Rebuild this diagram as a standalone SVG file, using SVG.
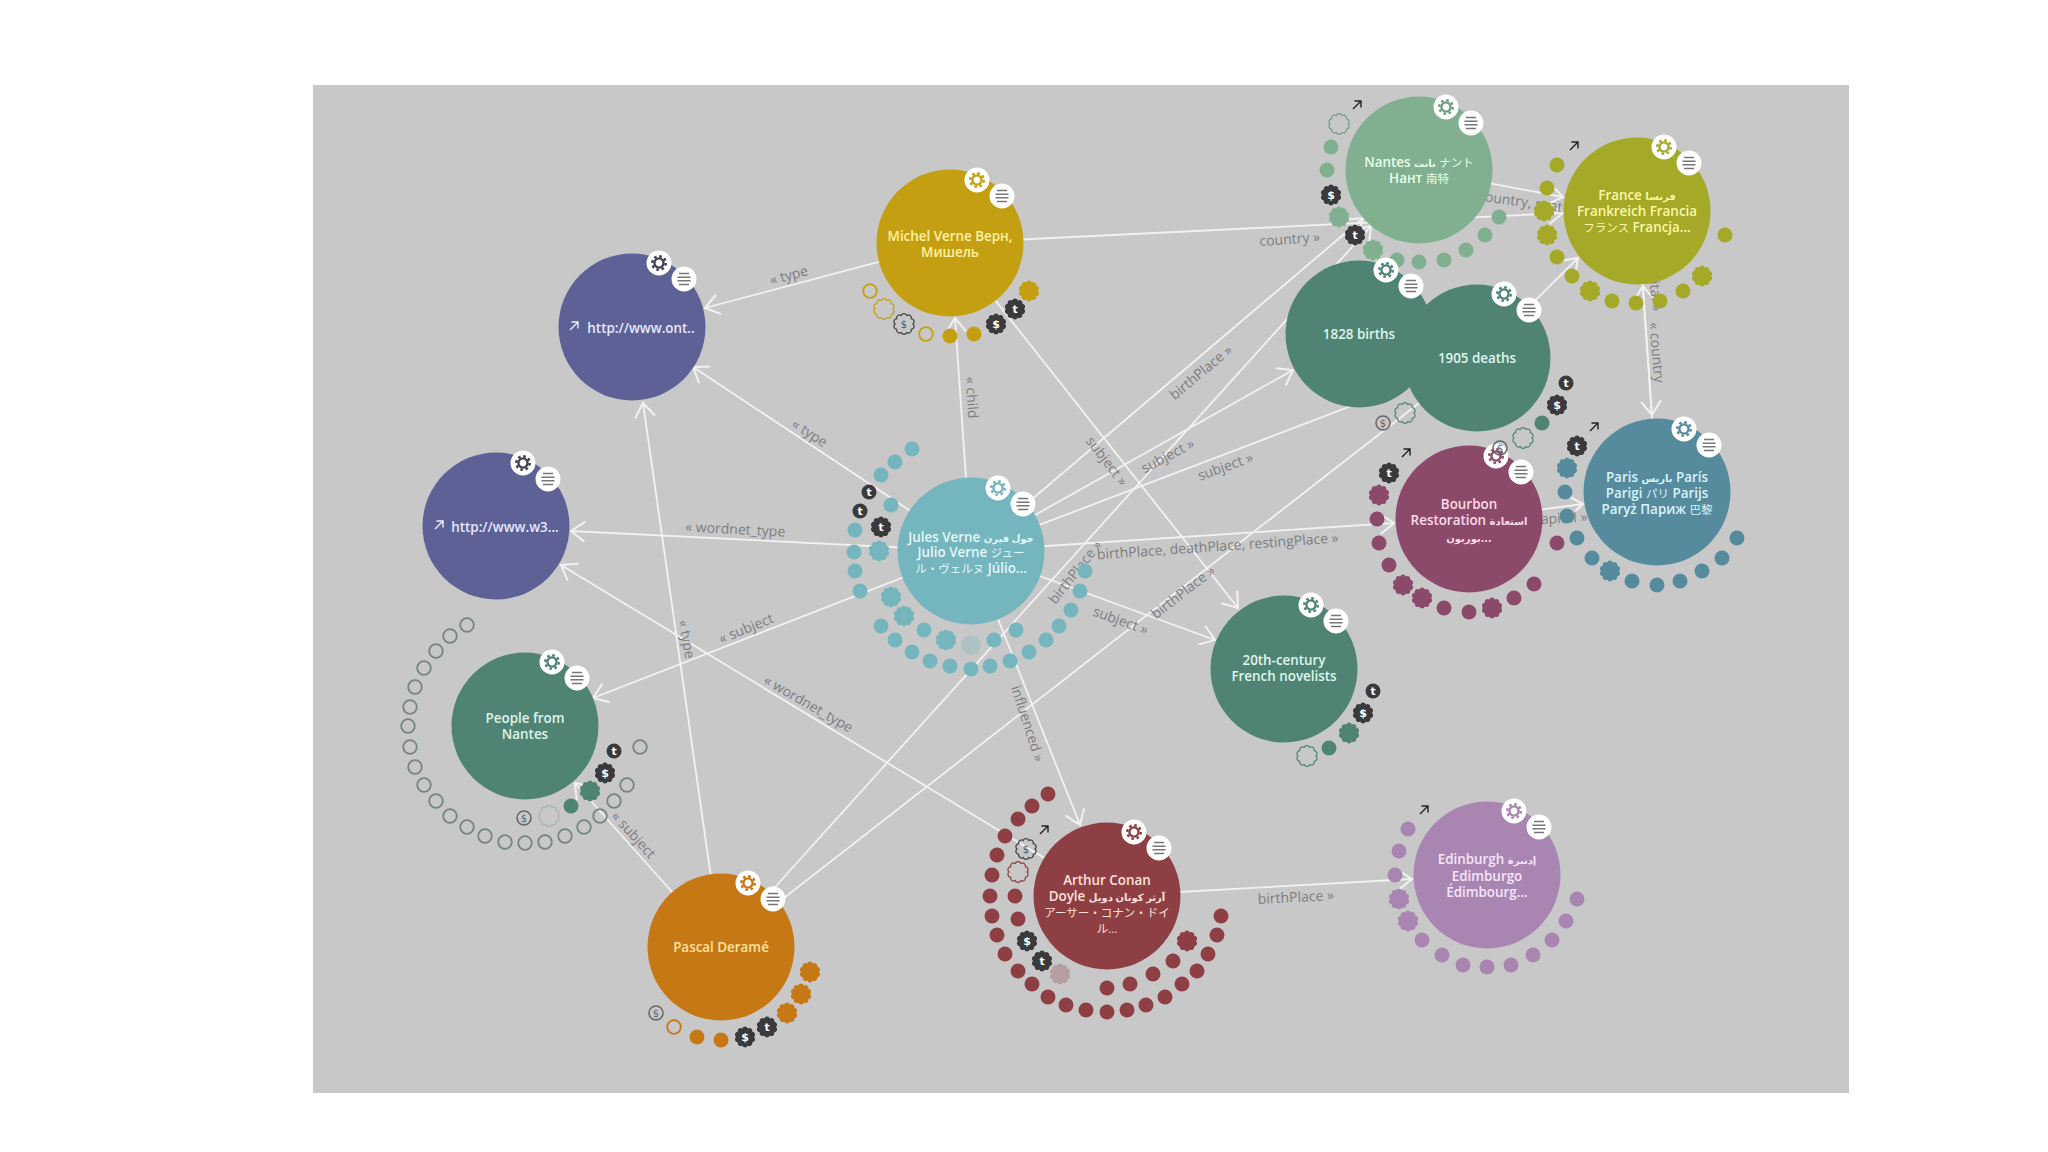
<svg xmlns="http://www.w3.org/2000/svg" width="2048" height="1152" viewBox="0 0 2048 1152">
<style>
text{font-family:"Open Sans","DejaVu Sans","Noto Sans CJK JP",sans-serif}
.e{stroke:#f2f2f2;stroke-width:1.8;fill:none;marker-end:url(#a)}
.l{font-size:14px;fill:#7d7d80;text-anchor:middle}
.t{font-size:13.4px;font-weight:600;text-anchor:middle}
.j{font-size:11.5px;font-weight:400}
.r{font-size:10px;font-weight:600}
.f{opacity:.3}
.jules{fill:#75b5bd;color:#75b5bd}.jules .t{fill:#e2f8f9}
.nantes{fill:#80b08f;color:#6f9f80}.nantes .t{fill:#e6ffe8}
.france{fill:#a4a928;color:#a4a928}.france .t{fill:#fbf7a8}
.teal{fill:#4f8475;color:#4f8475}.teal .t{fill:#dff5e8}
.bourbon{fill:#8c4a6b;color:#8c4a6b}.bourbon .t{fill:#fbd9ea}
.paris{fill:#568b9e;color:#568b9e}.paris .t{fill:#d8f3fb}
.michel{fill:#c49f11;color:#c49f11}.michel .t{fill:#fff2a0}
.uri{fill:#5d6195;color:#3f4050}.uri .t{fill:#e6e8ff}
.pascal{fill:#c67815;color:#c67815}.pascal .t{fill:#ffe2a0}
.arthur{fill:#8d3f44;color:#8d3f44}.arthur .t{fill:#ffe0dc}
.edin{fill:#a886b1;color:#a886b1}.edin .t{fill:#f6e4fa}
.ic{font-size:11px;font-weight:700;text-anchor:middle;font-family:"DejaVu Sans",sans-serif}
</style>
<defs>
<marker id="a" markerUnits="userSpaceOnUse" viewBox="-16 -12 18 24" refX="0" refY="0" markerWidth="18" markerHeight="24" orient="auto"><path d="M-14-10L0 0L-14 10" fill="none" stroke="#f2f2f2" stroke-width="2"/></marker>
<circle id="d" r="7.5"/>
<path id="s" d="M9 0A3 3 0 0 1 7.28 5.29A3 3 0 0 1 2.78 8.56A3 3 0 0 1-2.78 8.56A3 3 0 0 1-7.28 5.29A3 3 0 0 1-9 0A3 3 0 0 1-7.28-5.29A3 3 0 0 1-2.78-8.56A3 3 0 0 1 2.78-8.56A3 3 0 0 1 7.28-5.29A3 3 0 0 1 9 0Z"/>
<circle id="o" r="6.8" fill="none" stroke="currentColor" stroke-width="1.8"/>
<use id="os" href="#s" fill="none" stroke="currentColor" stroke-width="1.2"/>
<g id="tc"><circle r="7.5" fill="#3a3a3c"/><text class="ic" y="4" fill="#fff">t</text></g>
<g id="ts"><use href="#s" fill="#3a3a3c"/><text class="ic" y="4" fill="#fff">t</text></g>
<g id="ds"><use href="#s" fill="#3a3a3c"/><text class="ic" y="4" fill="#fff">$</text></g>
<g id="do"><circle r="7" fill="none" stroke="#666" stroke-width="1.5"/><text class="ic" y="4" fill="#666" style="font-size:10px;font-weight:400">$</text></g>
<g id="dz"><use href="#s" fill="none" stroke="#444" stroke-width="1.3"/><text class="ic" y="4" fill="#555" style="font-size:10px;font-weight:400">$</text></g>
<g id="b"><circle r="12.5" fill="#fff"/><circle r="4.6" fill="none" stroke="currentColor" stroke-width="2.4"/><circle r="6.8" fill="none" stroke="currentColor" stroke-width="2.4" stroke-dasharray="2.7 2.64"/>
<circle cx="25" cy="16" r="12.5" fill="#fff"/><path d="M20 10.5H30M18.5 14.2H31.5M18.5 17.8H31.5M20 21.5H30" stroke="#77777a" stroke-width="1.5" fill="none"/></g>
<path id="ar" d="M-4 4L4-4M-2.5-4H4V2.5" fill="none" stroke="#222" stroke-width="1.4"/>
<path id="aw" d="M-4 4L4-4M-2.5-4H4V2.5" fill="none" stroke="#eef" stroke-width="1.4"/>
</defs>
<rect width="2048" height="1152" fill="#fff"/>
<rect x="313" y="85" width="1536" height="1008" fill="#c8c8c9"/>
<g id="connectors">
<line class="e" x1="950" y1="243" x2="705" y2="308"/>
<line class="e" x1="971" y1="551" x2="693" y2="367"/>
<line class="e" x1="971" y1="551" x2="955" y2="318"/>
<line class="e" x1="971" y1="551" x2="571" y2="531"/>
<line class="e" x1="971" y1="551" x2="593" y2="698"/>
<line class="e" x1="971" y1="551" x2="1215" y2="640"/>
<line class="e" x1="971" y1="551" x2="1080" y2="825"/>
<line class="e" x1="971" y1="551" x2="1394" y2="523"/>
<line class="e" x1="971" y1="551" x2="1293" y2="370"/>
<line class="e" x1="971" y1="551" x2="1477" y2="358"/>
<line class="e" x1="971" y1="551" x2="1363" y2="218"/>
<line class="e" x1="950" y1="243" x2="1563" y2="213"/>
<line class="e" x1="950" y1="243" x2="1238" y2="608"/>
<line class="e" x1="1419" y1="170" x2="1563" y2="197"/>
<line class="e" x1="1477" y1="358" x2="1578" y2="258"/>
<line class="e" x1="1637" y1="211" x2="1652" y2="415"/>
<line class="e" x1="1657" y1="492" x2="1643" y2="286"/>
<line class="e" x1="1469" y1="519" x2="1583" y2="504"/>
<line class="e" x1="721" y1="947" x2="643" y2="403"/>
<line class="e" x1="721" y1="947" x2="575" y2="783"/>
<line class="e" x1="721" y1="947" x2="1371" y2="226"/>
<line class="e" x1="721" y1="947" x2="1477" y2="358"/>
<line class="e" x1="1107" y1="896" x2="561" y2="565"/>
<line class="e" x1="1107" y1="896" x2="1412" y2="879"/>
<text class="l" transform="translate(790 280) rotate(-15)">« type</text>
<text class="l" transform="translate(807 437) rotate(33)">« type</text>
<text class="l" transform="translate(967 398) rotate(86)">« child</text>
<text class="l" transform="translate(735 534) rotate(3)">« wordnet_type</text>
<text class="l" transform="translate(748 633) rotate(-22)">« subject</text>
<text class="l" transform="translate(1119 625) rotate(20)">subject »</text>
<text class="l" transform="translate(1023 725) rotate(72)">influenced »</text>
<text class="l" transform="translate(1170 460) rotate(-28)">subject »</text>
<text class="l" transform="translate(1227 471) rotate(-20)">subject »</text>
<text class="l" transform="translate(1103 464) rotate(52)">subject »</text>
<text class="l" transform="translate(1204 376) rotate(-40)">birthPlace »</text>
<text class="l" transform="translate(1079 575) rotate(-52)">birthPlace »</text>
<text class="l" transform="translate(1186 596) rotate(-38)">birthPlace »</text>
<text class="l" transform="translate(1218 551) rotate(-4)">birthPlace, deathPlace, restingPlace »</text>
<text class="l" transform="translate(1290 244) rotate(-4)">country »</text>
<text class="l" transform="translate(1525 207) rotate(8)">country, seat »</text>
<text class="l" transform="translate(682 640) rotate(80)">« type</text>
<text class="l" transform="translate(806 708) rotate(30)">« wordnet_type</text>
<text class="l" transform="translate(630 838) rotate(48)">« subject</text>
<text class="l" transform="translate(1296 902) rotate(-3)">birthPlace »</text>
<text class="l" transform="translate(1561 523) rotate(-3)">capital »</text>
<text class="l" transform="translate(1652 353) rotate(85)">« country</text>
<text class="l" transform="translate(1650 285) rotate(85)">capital »</text>
</g>
<g id="ont" class="uri"><circle cx="632" cy="327" r="73.5"/><use href="#b" x="659" y="263"/><use href="#aw" x="574" y="326"/><text class="t" x="641" y="333">http://www.ont..</text></g>
<g id="w3" class="uri"><circle cx="496" cy="526" r="73.5"/><use href="#b" x="523" y="463"/><use href="#aw" x="439" y="525"/><text class="t" x="505" y="532">http://www.w3...</text></g>
<g id="michel" class="michel"><circle cx="950" cy="243" r="73.5"/><use href="#b" x="977" y="180"/>
<use href="#o" x="870" y="291"/><use href="#os" x="884" y="309"/><use href="#dz" x="904" y="324"/><use href="#o" x="926" y="334"/><use href="#d" x="950" y="336"/><use href="#d" x="974" y="334"/><use href="#ds" x="996" y="324"/><use href="#ts" x="1015" y="309"/><use href="#s" x="1029" y="291"/>
<text class="t" x="950" y="241">Michel Verne Верн,</text><text class="t" x="950" y="257">Мишель</text></g>
<g id="jules" class="jules"><circle cx="971" cy="551" r="73.5"/><use href="#b" x="998" y="488"/>
<use href="#d" x="912" y="449"/><use href="#d" x="895" y="462"/><use href="#d" x="881" y="475"/><use href="#d" x="891" y="505"/><use href="#d" x="855" y="530"/><use href="#d" x="854" y="552"/><use href="#d" x="855" y="571"/><use href="#d" x="860" y="591"/><use href="#tc" x="869" y="492"/><use href="#tc" x="860" y="511"/><use href="#ts" x="881" y="527"/><use href="#s" x="879" y="551"/><use href="#s" x="891" y="597"/><use href="#s" x="904" y="616"/><use href="#d" x="881" y="626"/><use href="#d" x="895" y="640"/><use href="#d" x="912" y="652"/><use href="#d" x="930" y="661"/><use href="#d" x="950" y="666"/><use href="#d" x="971" y="669"/><use href="#d" x="990" y="666"/><use href="#d" x="1010" y="661"/><use href="#d" x="1029" y="652"/><use href="#d" x="1046" y="640"/><use href="#d" x="1059" y="626"/><use href="#d" x="1071" y="610"/><use href="#d" x="1080" y="591"/><use href="#d" x="1085" y="571"/><use href="#d" x="924" y="630"/><use href="#s" x="946" y="640"/><use href="#s" class="f" x="971" y="645"/><use href="#d" x="994" y="640"/><use href="#d" x="1016" y="630"/>
<text class="t" x="971" y="542">Jules Verne <tspan class="r">جول فيرن</tspan></text><text class="t" x="971" y="557">Julio Verne <tspan class="j">ジュー</tspan></text><text class="t" x="971" y="573"><tspan class="j">ル・ヴェルヌ</tspan> Júlio...</text></g>
<g id="nantes" class="nantes"><circle cx="1419" cy="170" r="73.5"/><use href="#b" x="1446" y="107"/><use href="#ar" x="1357" y="105"/>
<use href="#os" x="1339" y="124"/><use href="#d" x="1331" y="147"/><use href="#d" x="1327" y="170"/><use href="#ds" x="1331" y="195"/><use href="#s" x="1339" y="217"/><use href="#ts" x="1355" y="235"/><use href="#s" x="1373" y="250"/><use href="#d" x="1397" y="260"/><use href="#d" x="1419" y="262"/><use href="#d" x="1444" y="260"/><use href="#d" x="1466" y="250"/><use href="#d" x="1485" y="235"/><use href="#d" x="1499" y="217"/>
<text class="t" x="1419" y="167">Nantes <tspan class="r">نانت</tspan> <tspan class="j">ナント</tspan></text><text class="t" x="1419" y="183">Нант <tspan class="j">南特</tspan></text></g>
<g id="france" class="france"><circle cx="1637" cy="211" r="73.5"/><use href="#b" x="1664" y="147"/><use href="#ar" x="1574" y="146"/>
<use href="#d" x="1557" y="165"/><use href="#d" x="1547" y="188"/><use href="#s" x="1544" y="211"/><use href="#s" x="1547" y="235"/><use href="#d" x="1557" y="257"/><use href="#d" x="1572" y="276"/><use href="#s" x="1590" y="291"/><use href="#d" x="1612" y="301"/><use href="#d" x="1636" y="303"/><use href="#d" x="1660" y="301"/><use href="#d" x="1683" y="291"/><use href="#s" x="1702" y="276"/><use href="#d" x="1725" y="235"/>
<text class="t" x="1637" y="200">France <tspan class="r">فرنسا</tspan></text><text class="t" x="1637" y="216">Frankreich Francia</text><text class="t" x="1637" y="232"><tspan class="j">フランス</tspan> Francja...</text></g>
<g id="births" class="teal"><circle cx="1359" cy="334" r="73.5"/><use href="#b" x="1386" y="270"/><use href="#do" x="1383" y="423"/><use href="#os" x="1405" y="413"/><text class="t" x="1359" y="339">1828 births</text></g>
<g id="bourbon" class="bourbon"><circle cx="1469" cy="519" r="73.5"/><use href="#b" x="1496" y="456"/><use href="#ar" x="1406" y="453"/>
<use href="#ts" x="1389" y="473"/><use href="#s" x="1379" y="495"/><use href="#d" x="1377" y="519"/><use href="#d" x="1379" y="543"/><use href="#d" x="1389" y="565"/><use href="#s" x="1403" y="585"/><use href="#s" x="1422" y="598"/><use href="#d" x="1444" y="608"/><use href="#d" x="1469" y="612"/><use href="#s" x="1492" y="608"/><use href="#d" x="1514" y="598"/><use href="#d" x="1534" y="584"/><use href="#d" x="1557" y="543"/>
<text class="t" x="1469" y="509">Bourbon</text><text class="t" x="1469" y="525">Restoration <tspan class="r">استعادة</tspan></text><text class="t" x="1469" y="542"><tspan class="r">بوربون</tspan>...</text></g>
<g id="deaths" class="teal"><circle cx="1477" cy="358" r="73.5"/><use href="#b" x="1504" y="294"/><use href="#tc" x="1566" y="383"/><use href="#ds" x="1557" y="405"/><use href="#d" x="1542" y="423"/><use href="#os" x="1523" y="438"/><use href="#do" x="1500" y="448"/><text class="t" x="1477" y="363">1905 deaths</text></g>
<g id="paris" class="paris"><circle cx="1657" cy="492" r="73.5"/><use href="#b" x="1684" y="429"/><use href="#ar" x="1594" y="427"/>
<use href="#ts" x="1577" y="446"/><use href="#s" x="1567" y="468"/><use href="#d" x="1565" y="492"/><use href="#d" x="1567" y="516"/><use href="#d" x="1577" y="538"/><use href="#d" x="1592" y="558"/><use href="#s" x="1610" y="571"/><use href="#d" x="1632" y="581"/><use href="#d" x="1657" y="585"/><use href="#d" x="1680" y="581"/><use href="#d" x="1702" y="571"/><use href="#d" x="1722" y="558"/><use href="#d" x="1737" y="538"/>
<text class="t" x="1657" y="482">Paris <tspan class="r">باريس</tspan> París</text><text class="t" x="1657" y="498">Parigi <tspan class="j">パリ</tspan> Parijs</text><text class="t" x="1657" y="514">Paryż Париж <tspan class="j">巴黎</tspan></text></g>
<g id="novelists" class="teal"><circle cx="1284" cy="669" r="73.5"/><use href="#b" x="1311" y="605"/><use href="#tc" x="1373" y="691"/><use href="#ds" x="1363" y="713"/><use href="#s" x="1349" y="733"/><use href="#d" x="1329" y="748"/><use href="#os" x="1307" y="756"/>
<text class="t" x="1284" y="665">20th-century</text><text class="t" x="1284" y="681">French novelists</text></g>
<g id="people" class="teal"><circle cx="525" cy="726" r="73.5"/><use href="#b" x="552" y="662"/>
<g style="color:#75857f"><use href="#o" x="467" y="625"/><use href="#o" x="450" y="636"/><use href="#o" x="436" y="651"/><use href="#o" x="424" y="668"/><use href="#o" x="415" y="687"/><use href="#o" x="410" y="707"/><use href="#o" x="408" y="726"/><use href="#o" x="410" y="747"/><use href="#o" x="415" y="767"/><use href="#o" x="424" y="785"/><use href="#o" x="436" y="801"/><use href="#o" x="450" y="816"/><use href="#o" x="467" y="827"/><use href="#o" x="485" y="836"/><use href="#o" x="505" y="842"/><use href="#o" x="525" y="843"/><use href="#o" x="545" y="842"/><use href="#o" x="565" y="836"/><use href="#o" x="584" y="827"/><use href="#o" x="600" y="816"/><use href="#o" x="614" y="801"/><use href="#o" x="627" y="785"/><use href="#o" x="640" y="747"/></g>
<use href="#tc" x="614" y="751"/><use href="#ds" x="605" y="773"/><use href="#s" x="590" y="791"/><use href="#d" x="571" y="806"/><use href="#os" class="f" x="549" y="816"/><use href="#do" x="524" y="818"/>
<text class="t" x="525" y="723">People from</text><text class="t" x="525" y="739">Nantes</text></g>
<g id="pascal" class="pascal"><circle cx="721" cy="947" r="73.5"/><use href="#b" x="748" y="883"/>
<use href="#s" x="810" y="972"/><use href="#s" x="801" y="994"/><use href="#s" x="787" y="1013"/><use href="#ts" x="767" y="1027"/><use href="#ds" x="745" y="1037"/><use href="#d" x="721" y="1040"/><use href="#d" x="697" y="1037"/><use href="#o" x="674" y="1027"/><use href="#do" x="656" y="1013"/>
<text class="t" x="721" y="952">Pascal Deramé</text></g>
<g id="arthur" class="arthur"><circle cx="1107" cy="896" r="73.5"/><use href="#b" x="1134" y="832"/><use href="#ar" x="1044" y="830"/>
<use href="#d" x="1048" y="794"/><use href="#d" x="1032" y="806"/><use href="#d" x="1018" y="819"/><use href="#d" x="1005" y="836"/><use href="#d" x="997" y="855"/><use href="#d" x="992" y="875"/><use href="#d" x="990" y="896"/><use href="#d" x="992" y="916"/><use href="#d" x="997" y="935"/><use href="#d" x="1005" y="954"/><use href="#d" x="1018" y="971"/><use href="#d" x="1032" y="984"/><use href="#d" x="1048" y="997"/><use href="#d" x="1066" y="1005"/><use href="#d" x="1086" y="1010"/><use href="#d" x="1107" y="1012"/><use href="#d" x="1127" y="1010"/><use href="#d" x="1146" y="1005"/><use href="#d" x="1165" y="997"/><use href="#d" x="1182" y="984"/><use href="#d" x="1197" y="971"/><use href="#d" x="1208" y="954"/><use href="#d" x="1217" y="935"/><use href="#d" x="1221" y="916"/>
<use href="#dz" x="1026" y="849"/><use href="#os" x="1018" y="872"/><use href="#d" x="1015" y="896"/><use href="#d" x="1018" y="919"/><use href="#ds" x="1027" y="941"/><use href="#ts" x="1042" y="961"/><use href="#s" class="f" x="1060" y="974"/><use href="#d" x="1107" y="988"/><use href="#d" x="1130" y="984"/><use href="#d" x="1153" y="974"/><use href="#d" x="1173" y="961"/><use href="#s" x="1187" y="941"/>
<text class="t" x="1107" y="885">Arthur Conan</text><text class="t" x="1107" y="901">Doyle <tspan class="r">آرثر كونان دويل</tspan></text><text class="t" x="1107" y="917"><tspan class="j">アーサー・コナン・ドイ</tspan></text><text class="t" x="1107" y="933"><tspan class="j">ル...</tspan></text></g>
<g id="edinburgh" class="edin"><circle cx="1487" cy="875" r="73.5"/><use href="#b" x="1514" y="811"/><use href="#ar" x="1424" y="810"/>
<use href="#d" x="1408" y="829"/><use href="#d" x="1399" y="851"/><use href="#d" x="1395" y="875"/><use href="#s" x="1399" y="899"/><use href="#s" x="1408" y="921"/><use href="#d" x="1422" y="940"/><use href="#d" x="1442" y="955"/><use href="#d" x="1463" y="965"/><use href="#d" x="1487" y="967"/><use href="#d" x="1511" y="965"/><use href="#d" x="1533" y="955"/><use href="#d" x="1552" y="940"/><use href="#d" x="1566" y="921"/><use href="#d" x="1577" y="899"/>
<text class="t" x="1487" y="864">Edinburgh <tspan class="r">إدنبرة</tspan></text><text class="t" x="1487" y="881">Edimburgo</text><text class="t" x="1487" y="897">Édimbourg...</text></g>
</svg>
